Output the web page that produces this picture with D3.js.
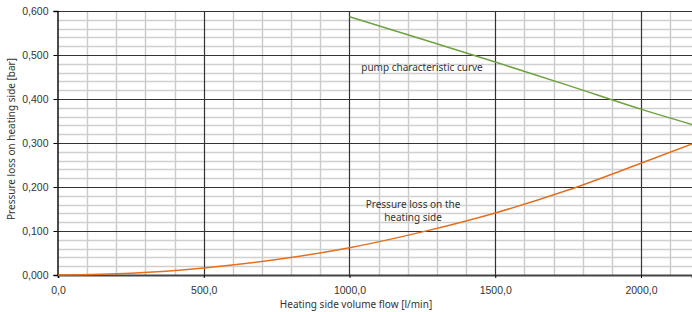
<!DOCTYPE html>
<html>
<head>
<meta charset="utf-8">
<script src="https://cdn.jsdelivr.net/npm/d3@7"></script>
<style>
  body { margin: 0; background: #fff; }
  svg { display: block; }
  .tick text { font-family: "Liberation Sans", Arial, sans-serif; font-size: 10.5px; fill: #333; }
  .lbl { font-family: "Noto Sans", sans-serif; font-size: 10px; fill: #333; }
</style>
</head>
<body>
<svg id="chart" width="692" height="312"></svg>
<script>
// Data
const lossFlow = [0, 250, 500, 750, 1000, 1250, 1500, 1750, 2000, 2175];
const lossBar  = [0, 0.004, 0.016, 0.035, 0.062, 0.098, 0.141, 0.193, 0.254, 0.298];
const pumpFlow = [1000, 1250, 1500, 1750, 2000, 2175];
const pumpBar  = [0.587, 0.536, 0.484, 0.431, 0.377, 0.342];
const xTicks = [0, 500, 1000, 1500, 2000];
const yTicks = [0, 0.1, 0.2, 0.3, 0.4, 0.5, 0.6];

const plotL = 58, plotT = 11, plotR = 692, plotB = 275;

const svg = d3.select('#chart');
const x = d3.scaleLinear([0, 2175], [plotL, plotR]);
const y = d3.scaleLinear([0, 0.6], [plotB, plotT]);
const loc = d3.formatLocale({ decimal: ',', thousands: '', grouping: [3], currency: ['', ''] });
const fx = loc.format('.1f'), fy = loc.format('.3f');
const crisp = v => Math.round(v) + 0.5;

// minor grid
const xMinor = d3.range(100, 2175, 100).filter(v => v % 500 !== 0);
const yMinor = d3.range(1, 30).map(i => i * 0.02).filter((v, i) => (i + 1) % 5 !== 0);
const grid = svg.append('g');
grid.selectAll('.vm').data(xMinor).enter().append('line')
  .attr('x1', d => crisp(x(d))).attr('x2', d => crisp(x(d)))
  .attr('y1', plotT).attr('y2', plotB)
  .attr('stroke', '#cacaca').attr('stroke-width', 1.4);
grid.selectAll('.hm').data(yMinor).enter().append('line')
  .attr('x1', plotL).attr('x2', plotR)
  .attr('y1', d => crisp(y(d))).attr('y2', d => crisp(y(d)))
  .attr('stroke', '#cfcfcf').attr('stroke-width', 1.4);

// major grid
grid.selectAll('.vM').data(xTicks.slice(1)).enter().append('line')
  .attr('x1', d => crisp(x(d))).attr('x2', d => crisp(x(d)))
  .attr('y1', plotT).attr('y2', plotB)
  .attr('stroke', '#333').attr('stroke-width', 1.2);
grid.selectAll('.hM').data(yTicks.slice(1)).enter().append('line')
  .attr('x1', plotL).attr('x2', plotR)
  .attr('y1', d => crisp(y(d))).attr('y2', d => crisp(y(d)))
  .attr('stroke', '#333').attr('stroke-width', 1.2);

// axes
const xAxis = svg.append('g')
  .attr('transform', 'translate(0,' + plotB + ')')
  .call(d3.axisBottom(x).tickValues(xTicks).tickFormat(fx).tickSize(3).tickPadding(9));
xAxis.select('.domain').attr('stroke', '#444').attr('stroke-width', 2);
const yAxis = svg.append('g')
  .attr('transform', 'translate(' + crisp(plotL - 1) + ',0)')
  .call(d3.axisLeft(y).tickValues(yTicks).tickFormat(fy).tickSize(4).tickPadding(5));
yAxis.select('.domain').attr('stroke', '#111').attr('stroke-width', 1.5);

// curves
const line = d3.line().x(d => x(d[0])).y(d => y(d[1])).curve(d3.curveMonotoneX);
svg.append('path').datum(d3.zip(pumpFlow, pumpBar))
  .attr('d', line).attr('fill', 'none').attr('stroke', '#6ea13f').attr('stroke-width', 1.5);
svg.append('path').datum(d3.zip(lossFlow, lossBar))
  .attr('d', line).attr('fill', 'none').attr('stroke', '#e4701f').attr('stroke-width', 1.5);

// labels
svg.append('text').attr('class', 'lbl').attr('x', 422).attr('y', 71)
  .attr('text-anchor', 'middle').text('pump characteristic curve');
svg.append('text').attr('class', 'lbl').attr('x', 413).attr('y', 208)
  .attr('text-anchor', 'middle').text('Pressure loss on the');
svg.append('text').attr('class', 'lbl').attr('x', 413).attr('y', 221)
  .attr('text-anchor', 'middle').text('heating side');
svg.append('text').attr('class', 'lbl').attr('x', 356).attr('y', 308)
  .attr('text-anchor', 'middle').text('Heating side volume flow [l/min]');
svg.append('text').attr('class', 'lbl')
  .attr('transform', 'translate(15,139) rotate(-90)')
  .attr('text-anchor', 'middle').text('Pressure loss on heating side [bar]');
</script>
</body>
</html>
